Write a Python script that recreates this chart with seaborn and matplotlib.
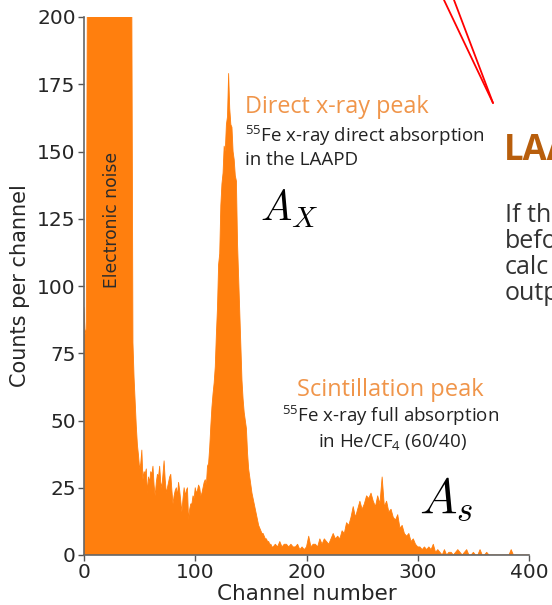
import matplotlib
matplotlib.use("Agg")
import matplotlib.pyplot as plt
from matplotlib.lines import Line2D
import seaborn as sns
import pandas as pd

# ---------------- data ----------------
channel_fine = list(range(0, 171))
counts_fine = [
    92, 82, 84,
    210, 245, 290, 330, 360, 395, 420, 440, 455, 470,
    480, 485, 490, 488, 480, 470, 460, 445, 430, 410,
    395, 380, 360, 345, 330, 315, 300, 290, 280, 270,
    262, 255, 248, 240, 235, 228, 222, 216, 212, 208, 204,
    79, 66, 57, 48, 41, 37, 32,
    34, 39, 28, 31, 30, 32, 23, 29, 27, 31,
    30, 33, 26, 22, 27, 30, 29, 33, 27, 25,
    30, 35, 28, 23, 25, 27, 29, 30, 24, 19,
    22, 24, 25, 22, 27, 24, 20, 16, 21, 25,
    22, 24, 25, 13, 17, 19, 19, 22, 21, 25,
    23, 24, 26, 25, 22, 23, 25, 27, 28, 26,
    33, 34, 40, 48, 55, 60, 64, 70, 82, 92,
    108, 112, 130, 138, 142, 152, 150, 160, 163, 179,
    166, 160, 159, 150, 147, 141, 139, 116, 103, 91,
    78, 65, 58, 53, 50, 47, 38, 32, 29, 26,
    23, 21, 19, 17, 15, 13, 11, 10, 9, 8,
    8, 7, 6, 6, 5, 5, 4, 4, 3, 3,
]
channel_coarse = list(range(172, 401, 2))
counts_coarse = [
    4, 3, 5, 3, 4, 4, 3, 4, 3, 3,
    4, 2, 3, 2, 3, 7, 3, 4, 4, 3,
    6, 4, 6, 5, 4, 6, 8, 6, 7, 6,
    9, 8, 12, 11, 14, 18, 14, 17, 20, 17,
    19, 22, 21, 23, 20, 18, 22, 19, 29, 18,
    20, 16, 17, 14, 13, 15, 10, 11, 8, 7,
    8, 5, 6, 4, 3, 3, 2, 3, 2, 3,
    2, 4, 1, 2, 1, 0, 2, 0, 1, 1,
    0, 1, 2, 1, 0, 1, 2, 0, 0, 1,
    0, 0, 2, 0, 0, 1, 0, 0, 0, 0,
    0, 0, 0, 0, 0, 0, 2, 0, 0, 0,
    0, 0, 0, 0, 0,
]
xticks = [0, 100, 200, 300, 400]
yticks = [0, 25, 50, 75, 100, 125, 150, 175, 200]

df = pd.DataFrame({
    "channel": channel_fine + channel_coarse,
    "counts": counts_fine + counts_coarse,
})

# ---------------- style ----------------
sns.set_theme(style="ticks")
plt.rcParams["font.family"] = ["DejaVu Sans"]
plt.rcParams["mathtext.fontset"] = "custom"
plt.rcParams["mathtext.rm"] = "Open Sans"
plt.rcParams["mathtext.it"] = "Open Sans:italic"

ORANGE = "#ff7f0e"
W, H = 552, 605
fig = plt.figure(figsize=(W / 100, H / 100), dpi=100)
ax = fig.add_axes([84 / W, 1 - 555 / H, (529 - 84) / W, (555 - 17) / H])

sns.lineplot(data=df, x="channel", y="counts", ax=ax, color=ORANGE,
             linewidth=0.6, estimator=None)
ax.fill_between(df["channel"], df["counts"], 0, color=ORANGE, linewidth=0)

ax.set_xlim(0, 400)
ax.set_ylim(0, 200)
ax.set_xticks(xticks)
ax.set_yticks(yticks)
ax.tick_params(axis="both", labelsize=14.5, length=4, width=1, color="#555555", pad=2)
for s in ("top", "right"):
    ax.spines[s].set_visible(False)
for s in ("left", "bottom"):
    ax.spines[s].set_color("#666666")
    ax.spines[s].set_linewidth(1.2)
ax.set_xlabel("Channel number", fontsize=15.5, labelpad=1)
ax.set_ylabel("Counts per channel", fontsize=15, labelpad=5)

def fx(px):
    return px / W

def fy(py):
    return 1 - py / H

# annotations
ax.text(0.064, 0.623, "Electronic noise", transform=ax.transAxes, rotation=90,
        fontsize=12.3, color="#2b2b2b", ha="center", va="center")

PEAKC = "#f0954a"
fig.text(fx(245), fy(113), "Direct x-ray peak", fontsize=16.8, color=PEAKC,
         family="Open Sans", ha="left", va="baseline")
fig.text(fx(245), fy(142), r"$^{55}$Fe x-ray direct absorption", fontsize=13.5,
         color="#222222", family="Open Sans", ha="left", va="baseline")
fig.text(fx(245), fy(165), "in the LAAPD", fontsize=13.5, color="#222222",
         family="Open Sans", ha="left", va="baseline")
fig.text(fx(260), fy(221), r"$A_X$", fontsize=30, color="black",
         math_fontfamily="cm", ha="left", va="baseline")

fig.text(fx(390), fy(396), "Scintillation peak", fontsize=17, color=PEAKC,
         family="Open Sans", ha="center", va="baseline")
fig.text(fx(391), fy(422), r"$^{55}$Fe x-ray full absorption", fontsize=13.5,
         color="#222222", family="Open Sans", ha="center", va="baseline")
fig.text(fx(392), fy(447), r"in He/CF$_{4}$ (60/40)", fontsize=13.5,
         color="#222222", family="Open Sans", ha="center", va="baseline")
fig.text(fx(419), fy(512), r"$A_s$", fontsize=36, color="black",
         math_fontfamily="cm", ha="left", va="baseline")

# slide remnants on the right
fig.text(fx(504), fy(160), "LAA", fontsize=25, fontweight="bold",
         color="#b85e0c", family="Open Sans", ha="left", va="baseline")
for txt, yb in [("If th", 222), ("befo", 248), ("calc", 274), ("outp", 300)]:
    fig.text(fx(505), fy(yb), txt, fontsize=18, color="#333333",
             family="Open Sans", ha="left", va="baseline")

for x0 in (444, 454):
    fig.add_artist(Line2D([fx(x0), fx(493)], [fy(0), fy(103)],
                          transform=fig.transFigure, color="red", linewidth=1.3))

fig.savefig("out.png", dpi=100)
